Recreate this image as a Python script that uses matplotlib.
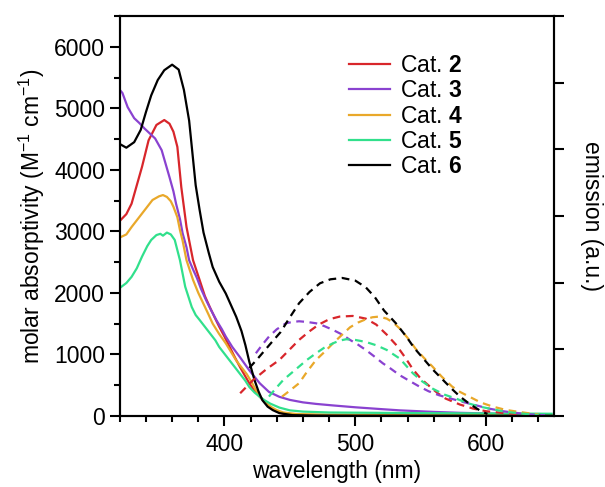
import matplotlib
matplotlib.use("Agg")
import matplotlib.pyplot as plt
from matplotlib.ticker import MultipleLocator

plt.rcParams['font.family'] = ['Liberation Sans', 'DejaVu Sans']
plt.rcParams['mathtext.fontset'] = 'custom'
plt.rcParams['mathtext.rm'] = 'Liberation Sans'
plt.rcParams['mathtext.bf'] = 'Liberation Sans:bold'
plt.rcParams['mathtext.it'] = 'Liberation Sans:italic'

labels = ["Cat. $\\mathbf{2}$", "Cat. $\\mathbf{3}$", "Cat. $\\mathbf{4}$",
          "Cat. $\\mathbf{5}$", "Cat. $\\mathbf{6}$"]
colors = ["#d8262b", "#8a42d0", "#e9a82a", "#31e08c", "#000000"]

# ---- absorption (molar absorptivity, M^-1 cm^-1) ----
abs2_wl = [320, 325, 329, 333, 337, 342, 348, 354, 358, 361, 364, 367, 371, 376, 381, 385, 389, 393, 396, 400, 404, 408, 412, 416, 419, 423, 427, 431, 435, 440, 445, 455, 480, 550, 650]
abs2_A = [3170, 3280, 3450, 3750, 4050, 4480, 4730, 4810, 4750, 4620, 4374, 3720, 3070, 2530, 2210, 1950, 1760, 1580, 1450, 1290, 1120, 950, 790, 640, 530, 410, 310, 220, 140, 70, 35, 15, 8, 5, 4]

abs3_wl = [320, 322, 326, 331, 335, 339, 343, 347, 352, 355, 358, 361, 363, 366, 368, 371, 373, 376, 379, 382, 386, 390, 394, 398, 401, 406, 412, 419, 427, 434, 442, 450, 460, 470, 483, 500, 520, 534, 560, 580, 610, 650]
abs3_A = [5300, 5250, 5020, 4840, 4760, 4670, 4590, 4510, 4320, 4100, 3880, 3650, 3450, 3200, 2970, 2740, 2530, 2380, 2240, 2070, 1880, 1710, 1550, 1410, 1290, 1120, 950, 740, 530, 390, 310, 260, 220, 195, 170, 140, 110, 90, 65, 50, 35, 20]

abs4_wl = [320, 325, 329, 333, 337, 341, 345, 350, 353, 356, 359, 361, 364, 366, 368, 371, 376, 380, 384, 388, 391, 396, 401, 405, 409, 413, 417, 421, 424, 428, 432, 436, 440, 445, 455, 480, 550, 650]
abs4_A = [2900, 2950, 3070, 3180, 3290, 3400, 3510, 3570, 3590, 3560, 3490, 3400, 3230, 3020, 2850, 2530, 2210, 2000, 1820, 1640, 1500, 1330, 1180, 1040, 900, 790, 680, 540, 420, 300, 200, 140, 93, 55, 30, 20, 15, 12]

abs5_wl = [320, 325, 329, 333, 337, 341, 344, 348, 351, 353, 356, 359, 362, 366, 370, 375, 378, 381, 385, 389, 393, 396, 400, 404, 408, 412, 416, 419, 423, 427, 431, 435, 442, 450, 460, 480, 550, 650]
abs5_A = [2080, 2160, 2260, 2400, 2590, 2760, 2860, 2940, 2960, 2930, 2980, 2950, 2860, 2530, 2100, 1770, 1640, 1560, 1450, 1340, 1230, 1120, 1010, 900, 790, 680, 570, 470, 380, 310, 250, 200, 135, 90, 70, 55, 45, 35]

abs6_wl = [320, 325, 331, 336, 340, 344, 349, 354, 360, 365, 369, 373, 378, 381, 384, 388, 391, 396, 401, 405, 409, 413, 416, 419, 423, 426, 429, 433, 437, 442, 452, 470, 500, 550, 600, 650]
abs6_A = [4420, 4360, 4450, 4650, 4940, 5210, 5460, 5620, 5710, 5630, 5300, 4800, 3750, 3350, 2980, 2650, 2420, 2180, 1990, 1800, 1610, 1380, 1150, 880, 580, 400, 255, 150, 93, 45, 12, 5, 3, 2, 2, 2]

# ---- emission (a.u.) ----
em2_wl = [412, 422, 432, 442, 450, 457, 465, 472, 480, 488, 498, 508, 516, 524, 531, 538, 544, 550, 557, 563, 569, 580, 590, 600, 615, 630, 640]
em2_I = [0.34, 0.54, 0.70, 0.84, 1.00, 1.14, 1.27, 1.37, 1.45, 1.49, 1.50, 1.46, 1.37, 1.22, 1.07, 0.88, 0.70, 0.56, 0.44, 0.34, 0.26, 0.17, 0.11, 0.07, 0.04, 0.02, 0.01]

em3_wl = [424, 429, 434, 440, 447, 452, 457, 463, 470, 476, 483, 490, 496, 502, 508, 514, 521, 527, 534, 541, 549, 556, 564, 573, 582, 592, 602, 613, 625, 635, 645]
em3_I = [0.94, 1.07, 1.19, 1.30, 1.39, 1.41, 1.42, 1.41, 1.39, 1.35, 1.29, 1.22, 1.14, 1.07, 0.99, 0.90, 0.79, 0.71, 0.61, 0.53, 0.44, 0.37, 0.31, 0.26, 0.21, 0.16, 0.11, 0.07, 0.04, 0.02, 0.01]

em4_wl = [444, 450, 457, 463, 470, 477, 483, 490, 496, 502, 508, 513, 518, 524, 529, 534, 540, 546, 552, 559, 566, 574, 580, 587, 596, 605, 615, 625, 640]
em4_I = [0.29, 0.38, 0.49, 0.66, 0.84, 0.97, 1.09, 1.22, 1.33, 1.40, 1.45, 1.48, 1.49, 1.46, 1.40, 1.31, 1.17, 1.01, 0.88, 0.74, 0.59, 0.44, 0.36, 0.29, 0.20, 0.14, 0.09, 0.06, 0.02]

em5_wl = [434, 440, 445, 451, 457, 463, 470, 476, 483, 488, 493, 500, 508, 516, 524, 534, 539, 544, 551, 559, 568, 577, 586, 595, 605, 615, 630, 640]
em5_I = [0.29, 0.43, 0.54, 0.64, 0.74, 0.84, 0.94, 1.02, 1.09, 1.13, 1.15, 1.14, 1.11, 1.06, 0.99, 0.86, 0.75, 0.64, 0.52, 0.41, 0.32, 0.26, 0.19, 0.14, 0.10, 0.06, 0.03, 0.01]

em6_wl = [419, 425, 435, 443, 450, 457, 465, 473, 481, 490, 500, 508, 515, 522, 531, 539, 545, 552, 559, 566, 573, 580, 588, 597, 601]
em6_I = [0.72, 0.85, 1.08, 1.26, 1.48, 1.69, 1.86, 1.99, 2.05, 2.07, 2.03, 1.93, 1.78, 1.58, 1.39, 1.19, 1.02, 0.86, 0.70, 0.56, 0.42, 0.29, 0.17, 0.06, 0.03]

abs_series = [(abs2_wl, abs2_A), (abs3_wl, abs3_A), (abs4_wl, abs4_A), (abs5_wl, abs5_A), (abs6_wl, abs6_A)]
em_series = [(em2_wl, em2_I), (em3_wl, em3_I), (em4_wl, em4_I), (em5_wl, em5_I), (em6_wl, em6_I)]

FS = 16.5
fig = plt.figure(figsize=(6.05, 4.87), dpi=100)
ax = fig.add_axes([0.198, 0.146, 0.718, 0.821])
ax2 = ax.twinx()

for (wl, A), c, lab in zip(abs_series, colors, labels):
    ax.plot(wl, A, color=c, lw=1.6, label=lab)
for (wl, I), c in zip(em_series, colors):
    ax2.plot(wl, I, color=c, lw=1.6, dashes=(3.5, 2.5))

ax.set_xlim(320, 652)
ax.set_ylim(0, 6500)
ax2.set_ylim(0, 6)

ax.xaxis.set_major_locator(MultipleLocator(100))
ax.xaxis.set_minor_locator(MultipleLocator(20))
ax.yaxis.set_major_locator(MultipleLocator(1000))
ax.yaxis.set_minor_locator(MultipleLocator(500))
ax2.yaxis.set_major_locator(MultipleLocator(1))
ax2.set_yticklabels([])

for a in (ax, ax2):
    for s in a.spines.values():
        s.set_linewidth(1.5)
ax.tick_params(which='major', direction='out', length=7.5, width=1.5, labelsize=FS, pad=3)
ax.tick_params(which='minor', direction='out', length=4.5, width=1.5)
ax.tick_params(axis='x', which='major', pad=5)
ax2.tick_params(axis='y', which='major', direction='out', length=7, width=1.5, right=True, labelright=False)

ax.set_xlabel("wavelength (nm)", fontsize=FS, labelpad=3)
ax.set_ylabel("molar absorptivity (M$^{-1}$ cm$^{-1}$)", fontsize=FS, labelpad=5)
ax2.set_ylabel("emission (a.u.)", fontsize=FS, rotation=-90, labelpad=28)

leg = ax.legend(loc='upper left', bbox_to_anchor=(0.528, 0.905), frameon=False,
                fontsize=FS, handlelength=1.8, handletextpad=0.4, labelspacing=0.1,
                borderaxespad=0.0, borderpad=0.0)

fig.savefig("out.png", dpi=100)
